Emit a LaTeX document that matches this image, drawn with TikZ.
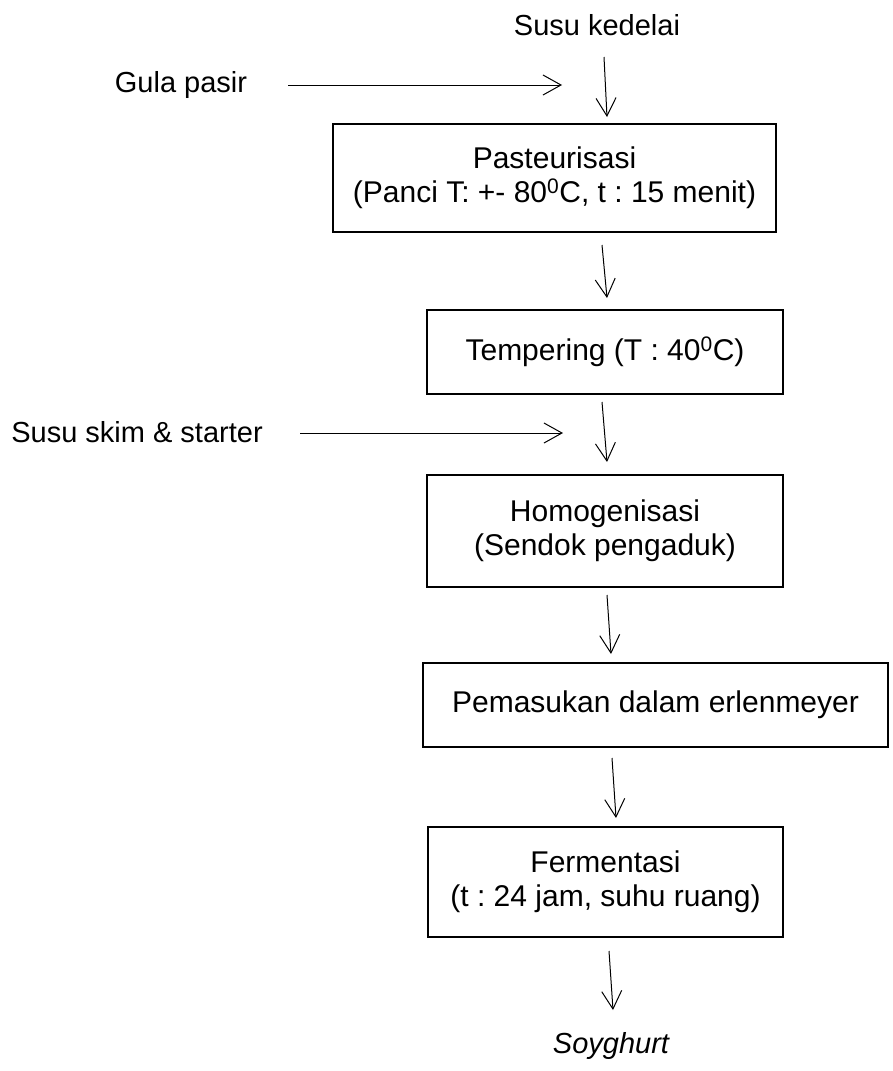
\documentclass[tikz,border=0pt]{standalone}
\usepackage{fontspec}
\setmainfont{Liberation Sans}
\usetikzlibrary{arrows.meta}
\frenchspacing
\tikzset{
  procbox/.style={draw, line width=2.3pt, minimum width=#1, inner sep=0pt, align=center, font=\fontsize{30}{34}\selectfont},
  lbl/.style={inner sep=0pt, font=\fontsize{29}{34}\selectfont},
  flow/.style={line width=1pt, -{Straight Barb[length=18pt, width=20pt, line width=1pt]}}
}
\begin{document}
\begin{tikzpicture}[x=1pt, y=-1pt]
\useasboundingbox (0,0) rectangle (892,1071);
% process boxes
\node[procbox=443pt, minimum height=108pt] (past) at (554.5,178) {Pasteurisasi\\ (Panci T: +- 80\textsuperscript{0}C, t : 15 menit)};
\node[procbox=356pt, minimum height=84pt] (temp) at (605,352) {Tempering (T : 40\textsuperscript{0}C)};
\node[procbox=356pt, minimum height=112pt] (homo) at (605,531) {Homogenisasi\\(Sendok pengaduk)};
\node[procbox=465pt, minimum height=84pt] (pema) at (655.5,705) {Pemasukan dalam erlenmeyer};
\node[procbox=355pt, minimum height=110pt] (ferm) at (605.5,882) {Fermentasi\\ (t : 24 jam, suhu ruang)};
% labels
\node[lbl] (kedelai) at (597,25) {Susu kedelai};
\node[lbl] (gula) at (181,85) {Gula pasir};
\node[lbl] (skim) at (137,432) {Susu skim \& starter};
\node[lbl, font=\fontsize{29}{34}\selectfont\itshape] (soy) at (611,1046) {Soyghurt};
% arrow end points
\coordinate (a1s) at (604,57);  \coordinate (a1e) at (607,117);
\coordinate (a2s) at (602,245); \coordinate (a2e) at (607,298);
\coordinate (a3s) at (602,402); \coordinate (a3e) at (607,462);
\coordinate (a4s) at (607,595); \coordinate (a4e) at (611,654);
\coordinate (a5s) at (612,758); \coordinate (a5e) at (616,818);
\coordinate (a6s) at (609,951); \coordinate (a6e) at (613,1010);
\coordinate (g1) at (288,85);   \coordinate (g2) at (562,85);
\coordinate (s1) at (300,433);  \coordinate (s2) at (563,433);
% connectors
\draw[flow] (a1s) -- (a1e);
\draw[flow] (a2s) -- (a2e);
\draw[flow] (a3s) -- (a3e);
\draw[flow] (a4s) -- (a4e);
\draw[flow] (a5s) -- (a5e);
\draw[flow] (a6s) -- (a6e);
\draw[flow] (g1) -- (g2);
\draw[flow] (s1) -- (s2);
\end{tikzpicture}
\end{document}
